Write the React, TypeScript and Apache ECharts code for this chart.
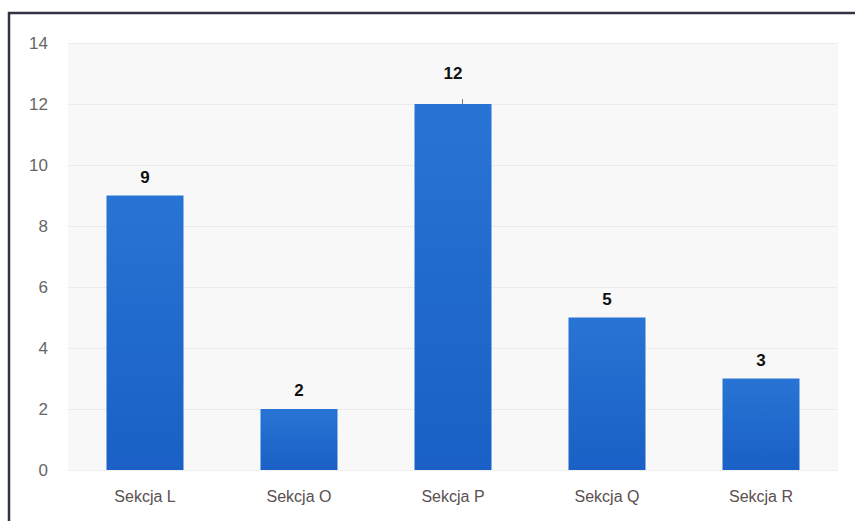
import React, { useEffect, useRef } from "react";
import * as echarts from "echarts";

const categories = ["Sekcja L", "Sekcja O", "Sekcja P", "Sekcja Q", "Sekcja R"];
const values = [9, 2, 12, 5, 3];
const yTicks = [0, 2, 4, 6, 8, 10, 12, 14];

export default function App() {
  const ref = useRef<HTMLDivElement>(null);
  useEffect(() => {
    if (!ref.current) return;
    const chart = echarts.init(ref.current, null, { renderer: "svg" });
    const font = "'Liberation Sans', 'DejaVu Sans', sans-serif";
    chart.setOption({
      animation: false,
      backgroundColor: "#ffffff",
      textStyle: { fontFamily: font },
      grid: {
        left: 68,
        right: 17,
        top: 43,
        bottom: 51,
        show: true,
        backgroundColor: "#f8f8f8",
        borderWidth: 0,
      },
      xAxis: {
        type: "category",
        data: categories,
        axisLine: { show: false },
        axisTick: { show: false },
        axisLabel: { color: "#5a5050", fontSize: 16, margin: 18, fontFamily: font },
      },
      yAxis: {
        type: "value",
        min: yTicks[0],
        max: yTicks[yTicks.length - 1],
        interval: 2,
        axisLine: { show: false },
        axisTick: { show: false },
        axisLabel: { color: "#666666", fontSize: 17, margin: 20, fontFamily: font },
        splitLine: { show: true, lineStyle: { color: "#e2dede", type: "dotted", width: 1 } },
      },
      series: [
        {
          type: "bar",
          data: values.map((v, i) =>
            i === 2
              ? { value: v, label: { distance: 22 }, labelLine: { show: true, lineStyle: { color: "#777", width: 1 } } }
              : { value: v }
          ),
          barWidth: "50%",
          itemStyle: {
            color: new echarts.graphic.LinearGradient(0, 0, 0, 1, [
              { offset: 0, color: "#2874d4" },
              { offset: 1, color: "#1a60c6" },
            ]),
          },
          label: {
            show: true,
            position: "top",
            distance: 10,
            color: "#111111",
            fontWeight: "bold",
            fontSize: 17,
            fontFamily: font,
          },
        },
      ],
      graphic: [
        {
          type: "rect",
          shape: { x: 9, y: 13, width: 900, height: 600 },
          style: { fill: "none", stroke: "#333344", lineWidth: 2.5 },
          silent: true,
        },
      ],
    });
    return () => chart.dispose();
  }, []);
  return (
    <div
      ref={ref}
      style={{ position: "absolute", left: 0, top: 0, width: 855, height: 521 }}
    />
  );
}
